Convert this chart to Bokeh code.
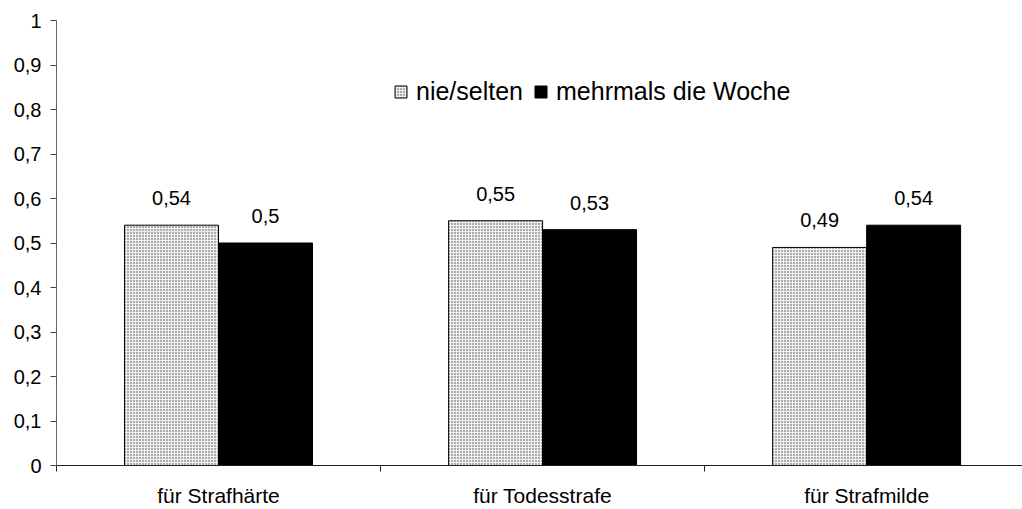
import numpy as np
from bokeh.plotting import figure
from bokeh.models import (ColumnDataSource, Range1d, FixedTicker, Legend, LegendItem,
                          LabelSet)
from bokeh.core.properties import value
from bokeh.embed import file_html
from bokeh.resources import INLINE

categories = ["für Strafhärte", "für Todesstrafe", "für Strafmilde"]
series_names = ["nie/selten", "mehrmals die Woche"]
nie_selten = [0.54, 0.55, 0.49]
mehrmals = [0.50, 0.53, 0.54]
y_ticks = [0.0, 0.1, 0.2, 0.3, 0.4, 0.5, 0.6, 0.7, 0.8, 0.9, 1.0]

FONT = "Liberation Sans"

def fmt(v):
    s = ("%g" % v)
    return s.replace(".", ",")

centers = np.arange(len(categories)) + 0.5
off = 0.145
bw = 0.29

src1 = ColumnDataSource(dict(x=centers - off, top=nie_selten, lab=[fmt(v) for v in nie_selten]))
src2 = ColumnDataSource(dict(x=centers + off, top=mehrmals, lab=[fmt(v) for v in mehrmals]))

p = figure(width=1022, height=509, output_backend="svg", toolbar_location=None,
           x_range=Range1d(0, 2.981), y_range=Range1d(0, 1),
           min_border_left=56, min_border_right=0, min_border_top=20, min_border_bottom=43)
p.outline_line_color = None
p.grid.visible = False
p.background_fill_color = "white"
p.border_fill_color = "white"

r1 = p.vbar(x="x", top="top", width=bw, source=src1, fill_color="#f0f0f0",
            line_color="black", line_width=1,
            hatch_pattern="dot", hatch_color="#444444", hatch_scale=3, hatch_weight=1.5)
r2 = p.vbar(x="x", top="top", width=bw, source=src2, fill_color="black",
            line_color="black", line_width=1)

for s in (src1, src2):
    p.add_layout(LabelSet(x="x", y="top", text="lab", source=s, text_align="center",
                          text_baseline="alphabetic", y_offset=20,
                          text_font=value(FONT), text_font_size="20px", text_color="black"))

# x axis
xa = p.xaxis[0]
xa.ticker = FixedTicker(ticks=list(centers), minor_ticks=[0, 1, 2, 3])
xa.major_label_overrides = {float(c): cat for c, cat in zip(centers, categories)}
xa.major_tick_line_color = None
xa.major_tick_out = 0
xa.major_tick_in = 0
xa.minor_tick_out = 6
xa.minor_tick_in = 0
xa.minor_tick_line_color = "#222222"
xa.axis_line_color = "#222222"
xa.major_label_standoff = 12
xa.major_label_text_font = FONT
xa.major_label_text_font_size = "21px"
xa.major_label_text_color = "black"

# y axis
ya = p.yaxis[0]
ya.ticker = FixedTicker(ticks=y_ticks, minor_ticks=[])
ya.major_label_overrides = {t: fmt(t) for t in y_ticks}
ya.major_tick_out = 6
ya.major_tick_in = 0
ya.major_tick_line_color = "#444444"
ya.axis_line_color = "#666666"
ya.major_label_standoff = 9
ya.major_label_text_font = FONT
ya.major_label_text_font_size = "20px"
ya.major_label_text_color = "black"

legend = Legend(items=[LegendItem(label=series_names[0], renderers=[r1]),
                       LegendItem(label=series_names[1], renderers=[r2])],
                orientation="horizontal", location=(337, 359),
                padding=0, margin=0, spacing=10, label_standoff=8,
                glyph_width=15, glyph_height=15,
                label_text_font=FONT, label_text_font_size="25px",
                label_text_color="black",
                border_line_color=None, background_fill_alpha=0)
p.add_layout(legend, "center")

open("out.html", "w").write(file_html(p, INLINE))
